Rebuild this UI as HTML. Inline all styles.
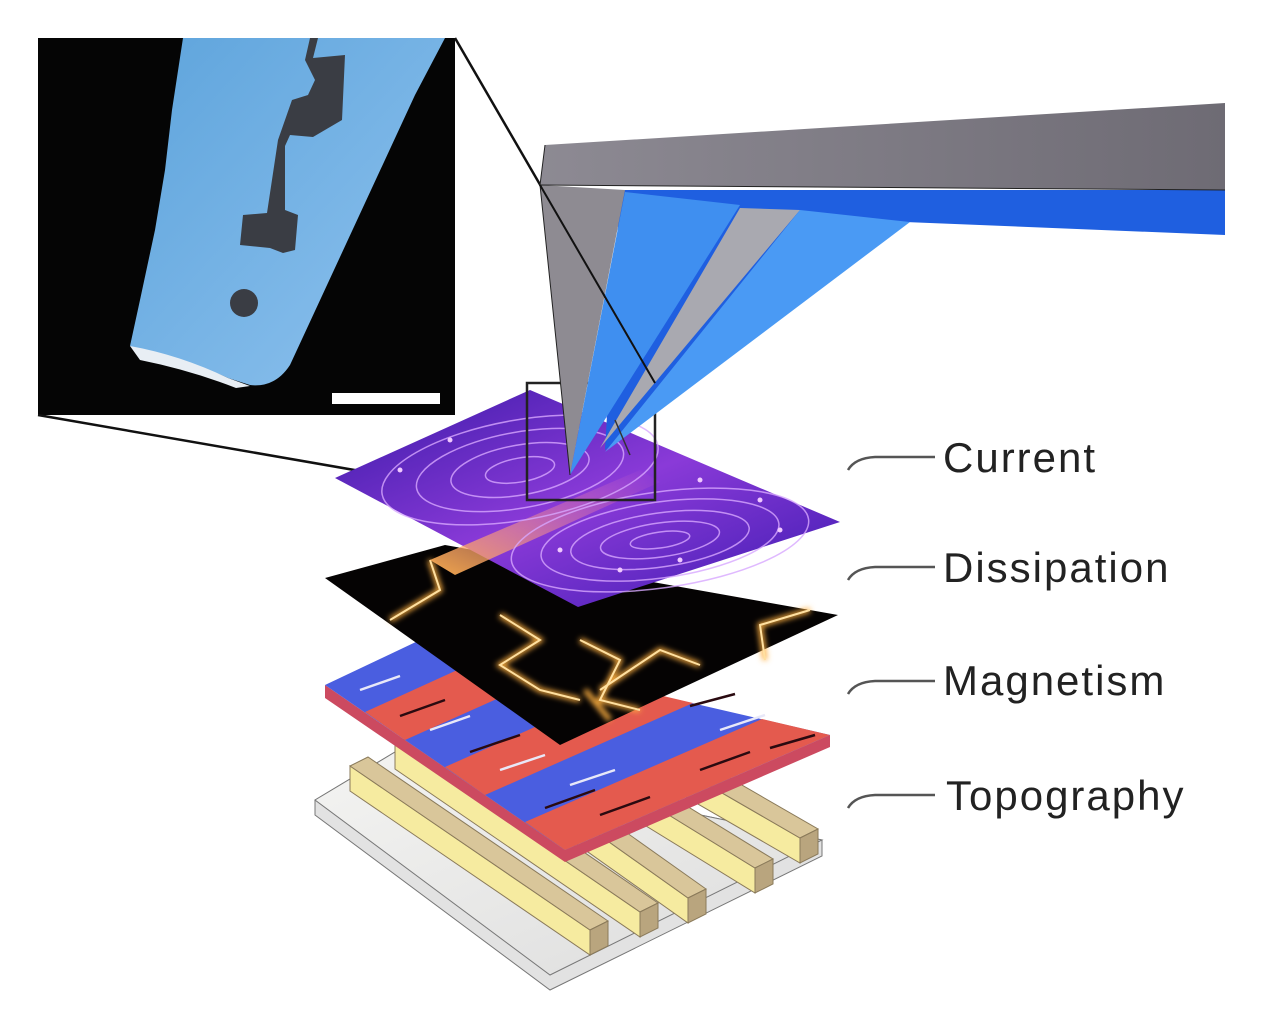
<!DOCTYPE html>
<html><head><meta charset="utf-8"><style>
html,body{margin:0;padding:0;background:#fff;}
svg{display:block}
text{font-family:"Liberation Sans",sans-serif;font-size:42px;letter-spacing:2px;fill:#222;}
</style></head><body>
<svg width="1263" height="1018" viewBox="0 0 1263 1018" xmlns="http://www.w3.org/2000/svg">
<defs>
<linearGradient id="tipb" x1="0" y1="0" x2="1" y2="1"><stop offset="0" stop-color="#5ea4dc"/><stop offset="1" stop-color="#8ec2ee"/></linearGradient>
<linearGradient id="cur" x1="0" y1="0" x2="1" y2="1"><stop offset="0" stop-color="#3a1aa8"/><stop offset="0.5" stop-color="#8a3ad8"/><stop offset="1" stop-color="#3b1ab0"/></linearGradient>
<linearGradient id="streak" x1="0" y1="1" x2="1" y2="0"><stop offset="0" stop-color="#ffb050" stop-opacity="0.95"/><stop offset="1" stop-color="#ff80c0" stop-opacity="0"/></linearGradient>
<linearGradient id="gray" x1="0" y1="0" x2="1" y2="0"><stop offset="0" stop-color="#8d8a93"/><stop offset="1" stop-color="#6e6b74"/></linearGradient>
<linearGradient id="base" x1="0" y1="0" x2="1" y2="1"><stop offset="0" stop-color="#f4f4f2"/><stop offset="1" stop-color="#dcdcdc"/></linearGradient>
<filter id="glow"><feGaussianBlur stdDeviation="3"/></filter>
</defs>

<!-- inset -->
<rect x="38" y="38" width="417" height="377" fill="#050505"/>
<path d="M183,38 L445,38 L415,95 L290,365 Q275,388 250,385 L228,378 Q200,365 172,360 L130,346 L140,300 L155,230 L165,170 L172,110 Z" fill="url(#tipb)"/>
<path d="M130,346 Q180,355 228,378 L250,386 L236,388 Q190,370 140,360 Z" fill="#e8eef4"/>
<path d="M310,38 L318,38 L313,58 L345,55 L342,120 L313,137 L290,135 L285,146 L285,210 L298,215 L295,250 L283,253 L270,248 L240,245 L243,215 L267,213 L278,140 L292,100 L308,95 L315,80 L305,60 Z" fill="#3a3d44"/>
<circle cx="244" cy="303" r="14" fill="#3a3d44"/>
<rect x="332" y="393" width="108" height="11" fill="#fff"/>

<polyline points="455,38 655,383" fill="none" stroke="#111" stroke-width="2.5"/>
<polyline points="38,415 527,500" fill="none" stroke="#111" stroke-width="2.5"/>

<!-- base plate -->
<polygon points="315,800 395,752 822,840 822,856 550,990 315,815" fill="#e2e2e2" stroke="#777" stroke-width="1"/>
<polygon points="315,800 395,752 822,840 550,975" fill="url(#base)" stroke="#777" stroke-width="1"/>
<g stroke="#8a7a5a" stroke-width="1">
<polygon points="530,682 800,838 800,863 530,707" fill="#f6eba0"/>
<polygon points="530,682 548,673 818,829 800,838" fill="#d9c69a"/>
<polygon points="800,838 818,829 818,854 800,863" fill="#b9a57e"/>
<polygon points="485,702 755,868 755,893 485,727" fill="#f6eba0"/>
<polygon points="485,702 503,693 773,859 755,868" fill="#d9c69a"/>
<polygon points="755,868 773,859 773,884 755,893" fill="#b9a57e"/>
<polygon points="440,722 688,898 688,923 440,747" fill="#f6eba0"/>
<polygon points="440,722 458,713 706,889 688,898" fill="#d9c69a"/>
<polygon points="688,898 706,889 706,914 688,923" fill="#b9a57e"/>
<polygon points="395,744 640,912 640,937 395,769" fill="#f6eba0"/>
<polygon points="395,744 413,735 658,903 640,912" fill="#d9c69a"/>
<polygon points="640,912 658,903 658,928 640,937" fill="#b9a57e"/>
<polygon points="350,766 590,930 590,955 350,791" fill="#f6eba0"/>
<polygon points="350,766 368,757 608,921 590,930" fill="#d9c69a"/>
<polygon points="590,930 608,921 608,946 590,955" fill="#b9a57e"/>
</g>

<!-- magnetism -->
<polygon points="325,685 565,850 830,735 830,747 565,862 325,698" fill="#cc4a60"/>
<polygon points="325,685 420,640 830,735 565,850" fill="#4a5ee0"/>
<g fill="#e45a4e">
<polygon points="365,712 488,656 557,672 405,740"/>
<polygon points="445,767 625,687 693,703 485,795"/>
<polygon points="525,822 762,719 830,735 565,850"/>
</g>
<g stroke="#2a0a10" stroke-width="2.5"><line x1="400" y1="716" x2="445" y2="700"/><line x1="470" y1="752" x2="520" y2="735"/><line x1="545" y1="808" x2="595" y2="790"/><line x1="600" y1="815" x2="650" y2="797"/><line x1="700" y1="770" x2="750" y2="752"/><line x1="770" y1="748" x2="815" y2="735"/><line x1="690" y1="706" x2="735" y2="694"/></g>
<g stroke="#e8e8f8" stroke-width="2.5"><line x1="360" y1="690" x2="400" y2="676"/><line x1="430" y1="730" x2="470" y2="716"/><line x1="500" y1="770" x2="545" y2="755"/><line x1="570" y1="785" x2="615" y2="770"/><line x1="720" y1="730" x2="765" y2="715"/></g>

<!-- dissipation -->
<polygon points="325,578 445,545 838,615 560,745" fill="#050303"/>
<g fill="none" stroke="#ffb040" stroke-width="5" filter="url(#glow)">
<polyline points="430,560 440,590 390,620"/>
<polyline points="500,615 540,640 500,665 540,690 580,700"/>
<polyline points="580,640 620,660 600,700 640,710"/>
<polyline points="600,690 660,650 700,665"/>
<polyline points="810,610 760,625 765,660"/>
<polyline points="585,690 610,720"/>
</g>
<g fill="none" stroke="#ffe0a0" stroke-width="2">
<polyline points="430,560 440,590 390,620"/>
<polyline points="500,615 540,640 500,665 540,690 580,700"/>
<polyline points="580,640 620,660 600,700 640,710"/>
<polyline points="600,690 660,650 700,665"/>
<polyline points="810,610 760,625 765,660"/>
</g>

<!-- current -->
<polygon points="335,478 530,390 840,522 578,607" fill="url(#cur)"/>
<polygon points="430,560 640,470 660,482 455,575" fill="url(#streak)"/>
<g fill="none" stroke="#d8a8ff" stroke-width="1.5" opacity="0.8">
<ellipse cx="660" cy="540" rx="150" ry="48" transform="rotate(-8 660 540)"/>
<ellipse cx="660" cy="540" rx="120" ry="38" transform="rotate(-8 660 540)"/>
<ellipse cx="660" cy="540" rx="90" ry="27" transform="rotate(-8 660 540)"/>
<ellipse cx="660" cy="540" rx="60" ry="17" transform="rotate(-8 660 540)"/>
<ellipse cx="660" cy="540" rx="30" ry="8" transform="rotate(-8 660 540)"/>
<ellipse cx="520" cy="470" rx="140" ry="50" transform="rotate(-10 520 470)"/>
<ellipse cx="520" cy="470" rx="105" ry="38" transform="rotate(-10 520 470)"/>
<ellipse cx="520" cy="470" rx="70" ry="25" transform="rotate(-10 520 470)"/>
<ellipse cx="520" cy="470" rx="35" ry="12" transform="rotate(-10 520 470)"/>
</g>
<g fill="#f0c8ff"><circle cx="400" cy="470" r="2.5"/><circle cx="450" cy="440" r="2.5"/><circle cx="700" cy="480" r="2.5"/><circle cx="760" cy="500" r="2.5"/><circle cx="620" cy="570" r="2.5"/><circle cx="680" cy="560" r="2.5"/><circle cx="560" cy="550" r="2.5"/><circle cx="780" cy="530" r="2.5"/></g>

<rect x="527" y="383" width="128" height="117" fill="none" stroke="#222" stroke-width="2.5"/>

<!-- cantilever -->
<polygon points="545,145 1225,103 1225,190 540,185" fill="url(#gray)"/>
<polygon points="620,190 1225,190 1225,235 905,222 605,450" fill="#1f5fe0"/>
<polygon points="540,185 625,190 570,475" fill="#8e8b92"/>
<polygon points="625,192 740,205 570,475" fill="#3f8ff0"/>
<polygon points="740,208 800,210 600,448" fill="#a9a9b0"/>
<polygon points="800,210 910,222 605,452" fill="#4a9af4"/>
<line x1="540" y1="185" x2="1225" y2="190" stroke="#222" stroke-width="1"/>
<polyline points="545,145 540,185 570,475" fill="none" stroke="#222" stroke-width="1"/>
<line x1="630" y1="455" x2="615" y2="420" stroke="#333" stroke-width="1.5"/>
<line x1="540" y1="185" x2="655" y2="383" stroke="#111" stroke-width="2"/>

<!-- labels -->
<g fill="none" stroke="#555" stroke-width="2.5">
<path d="M848,470 Q855,458 875,457 L935,457"/>
<path d="M848,580 Q855,568 875,567 L935,567"/>
<path d="M848,694 Q855,682 875,681 L935,681"/>
<path d="M848,808 Q855,796 875,795 L935,795"/>
</g>
<text x="943" y="472">Current</text>
<text x="943" y="582">Dissipation</text>
<text x="943" y="695">Magnetism</text>
<text x="946" y="810">Topography</text>
</svg>
</body></html>
